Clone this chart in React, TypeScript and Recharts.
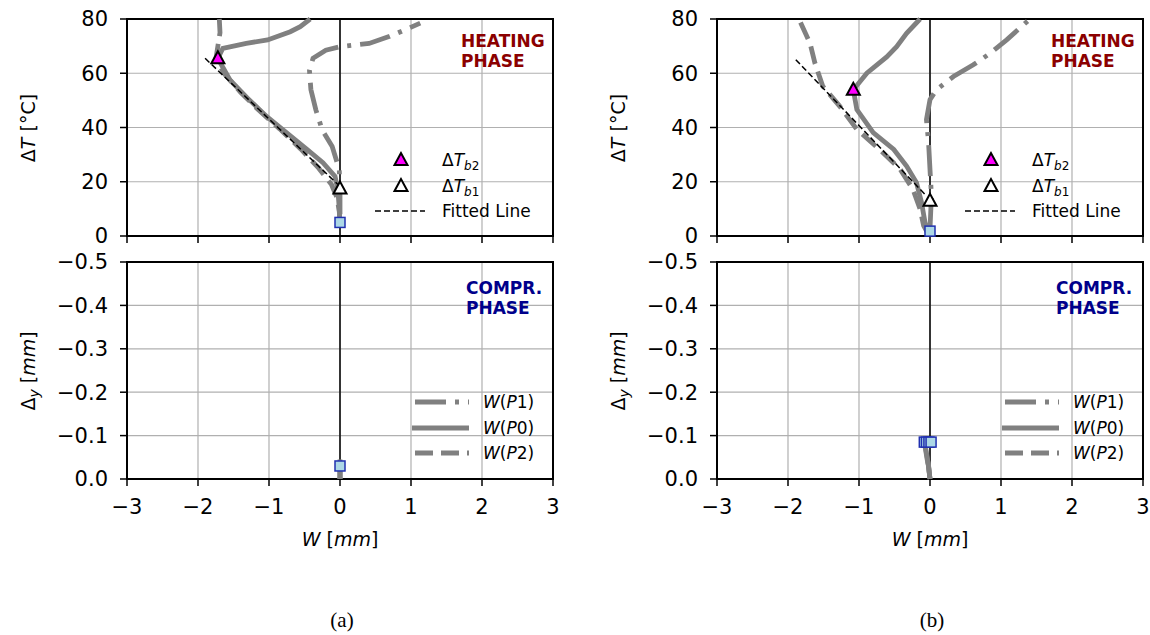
import React from "react";
import {
  CartesianGrid,
  ComposedChart,
  Line,
  ReferenceArea,
  ReferenceLine,
  Scatter,
  XAxis,
  YAxis,
} from "recharts";

type Pt = [number, number];

const wTicks = [-3, -2, -1, 0, 1, 2, 3];
const tTicks = [0, 20, 40, 60, 80];
const dyTicks = [-0.5, -0.4, -0.3, -0.2, -0.1, 0];

// (a) heating phase: [W mm, dT degC]
const heatP1A: Pt[] = [
  [0, 8], [0, 15], [-0.01, 24.5], [-0.11, 33], [-0.25, 39], [-0.34, 46.5],
  [-0.41, 54], [-0.43, 61], [-0.38, 65.5], [-0.2, 68.5], [0, 69.8],
  [0.41, 71], [0.69, 73.5], [0.97, 76.6], [1.13, 78.5],
];
const heatP0A: Pt[] = [
  [0, 4], [-0.01, 10], [-0.03, 17], [-0.07, 22], [-0.24, 27], [-0.47, 32],
  [-0.75, 38], [-1.03, 44], [-1.31, 51], [-1.55, 57.5], [-1.72, 65.5],
  [-1.65, 69.2], [-1.32, 71], [-1.02, 72.3], [-0.7, 75.3], [-0.56, 77.2], [-0.42, 80],
];
const heatP2A: Pt[] = [
  [0, 5], [-0.01, 9], [-0.04, 14], [-0.12, 19], [-0.3, 25], [-0.55, 32],
  [-0.85, 39.5], [-1.15, 46.5], [-1.4, 53], [-1.62, 59.5], [-1.75, 65],
  [-1.72, 70], [-1.69, 75], [-1.7, 80],
];
const fitA: Pt[] = [[-1.9, 65.5], [-0.03, 19]];
const tb2A: Pt[] = [[-1.72, 65.5]];
const tb1A: Pt[] = [[0, 17.5]];
const startA: Pt[] = [[0, 5]];

// (b) heating phase
const heatP1B: Pt[] = [
  [0, 2.6], [0.02, 14.8], [0, 24.5], [-0.02, 34.4], [-0.05, 42.9], [0, 50.3],
  [0.09, 53.9], [0.33, 58.8], [0.61, 63.1], [0.85, 67.4], [1.08, 72.3], [1.39, 79.6],
];
const heatP0B: Pt[] = [
  [-0.02, 1.4], [-0.07, 5], [-0.12, 12.4], [-0.19, 19.7], [-0.33, 25.8],
  [-0.51, 31.9], [-0.8, 38.1], [-1.03, 46.6], [-1.08, 53.9], [-0.89, 60],
  [-0.61, 66], [-0.47, 69.8], [-0.33, 74.7], [-0.14, 80],
];
const heatP2B: Pt[] = [
  [-0.03, 1], [-0.09, 3.8], [-0.14, 9.9], [-0.24, 17.2], [-0.42, 24.6],
  [-0.71, 31.9], [-1.03, 39.3], [-1.27, 47.8], [-1.51, 55.2], [-1.62, 63.7],
  [-1.69, 71.1], [-1.84, 79.6], [-1.86, 80],
];
const fitB: Pt[] = [[-1.89, 65], [-0.05, 14.8]];
const tb2B: Pt[] = [[-1.08, 53.9]];
const tb1B: Pt[] = [[0, 13]];
const startB: Pt[] = [[0, 1.8]];

// compression phase: [W mm, dy mm]
const compP1A: Pt[] = [[0, 0], [0, -0.04]];
const compP0A: Pt[] = [[0, 0], [0, -0.045]];
const compP2A: Pt[] = [[0, 0], [0, -0.04]];
const compStartA: Pt[] = [[0, -0.03]];

const compP1B: Pt[] = [[0, 0], [-0.02, -0.03], [-0.05, -0.06]];
const compP0B: Pt[] = [[0, 0], [-0.02, -0.03], [-0.04, -0.045], [-0.07, -0.075]];
const compP2B: Pt[] = [[0, 0], [-0.03, -0.04], [-0.06, -0.07]];
const compStartB: Pt[] = [[-0.08, -0.085], [-0.05, -0.085], [-0.015, -0.085], [0.015, -0.085]];

const FONT = "DejaVu Sans";
const GRAY = "#808080";
const LW = 4.8;
const P1_DASH = "31 9 4 9";
const P2_DASH = "18 8";

const rows = (pts: Pt[]) => pts.map(([w, v]) => ({ w, v }));
const minus = (s: string) => s.replace("-", "\u2212");

const triangle = (fill: string) => (p: any) => (
  <polygon
    points={`${p.cx},${p.cy - 7} ${p.cx - 6.5},${p.cy + 5} ${p.cx + 6.5},${p.cy + 5}`}
    fill={fill}
    stroke="#000"
    strokeWidth={2}
  />
);
const square = (p: any) => (
  <rect x={p.cx - 5} y={p.cy - 5} width={10} height={10} fill="#add8e6" stroke="#2030b0" strokeWidth={1.5} />
);

const tickStyle = { fill: "#000", fontSize: 21, fontFamily: FONT };

interface PanelProps {
  left: number;
  p1: Pt[];
  p0: Pt[];
  p2: Pt[];
}

function HeatPanel({ left, p1, p0, p2, fit, tb2, tb1, start }: PanelProps & { fit: Pt[]; tb2: Pt[]; tb1: Pt[]; start: Pt[] }) {
  return (
    <div style={{ position: "absolute", left, top: 0 }}>
      <ComposedChart width={568} height={250} margin={{ top: 19, right: 15, bottom: 2, left: 0 }}>
        <CartesianGrid stroke="#b0b0b0" strokeWidth={1.2} />
        <XAxis
          type="number"
          dataKey="w"
          domain={[-3, 3]}
          ticks={wTicks}
          height={12}
          axisLine={false}
          tickSize={7}
          tickLine={{ stroke: "#000", strokeWidth: 1.5 }}
          tickFormatter={() => ""}
        />
        <YAxis
          type="number"
          domain={[0, 80]}
          ticks={tTicks}
          width={127}
          axisLine={false}
          tickSize={7}
          tickMargin={12}
          tickLine={{ stroke: "#000", strokeWidth: 1.5 }}
          tick={tickStyle}
        />
        <ReferenceLine x={0} stroke="#000" strokeWidth={1.5} />
        <Line data={rows(p1)} dataKey="v" type="linear" stroke={GRAY} strokeWidth={LW} strokeDasharray={P1_DASH} dot={false} isAnimationActive={false} />
        <Line data={rows(p0)} dataKey="v" type="linear" stroke={GRAY} strokeWidth={LW} dot={false} isAnimationActive={false} />
        <Line data={rows(p2)} dataKey="v" type="linear" stroke={GRAY} strokeWidth={LW} strokeDasharray={P2_DASH} dot={false} isAnimationActive={false} />
        <Line data={rows(fit)} dataKey="v" type="linear" stroke="#000" strokeWidth={1.5} strokeDasharray="6 3" dot={false} isAnimationActive={false} />
        <Scatter data={rows(tb2)} dataKey="v" shape={triangle("#ff00ff")} isAnimationActive={false} />
        <Scatter data={rows(tb1)} dataKey="v" shape={triangle("#ffffff")} isAnimationActive={false} />
        <Scatter data={rows(start)} dataKey="v" shape={square} isAnimationActive={false} />
        <ReferenceArea x1={-3} x2={3} y1={0} y2={80} fill="none" stroke="#000" strokeWidth={2} />
      </ComposedChart>
    </div>
  );
}

function CompPanel({ left, p1, p0, p2, start }: PanelProps & { start: Pt[] }) {
  return (
    <div style={{ position: "absolute", left, top: 240 }}>
      <ComposedChart width={568} height={279} margin={{ top: 22, right: 15, bottom: 0, left: 0 }}>
        <CartesianGrid stroke="#b0b0b0" strokeWidth={1.2} />
        <XAxis
          type="number"
          dataKey="w"
          domain={[-3, 3]}
          ticks={wTicks}
          height={40}
          axisLine={false}
          tickSize={7}
          tickMargin={13}
          tickLine={{ stroke: "#000", strokeWidth: 1.5 }}
          tick={tickStyle}
          tickFormatter={(v: number) => minus(String(v))}
        />
        <YAxis
          type="number"
          domain={[-0.5, 0]}
          reversed
          ticks={dyTicks}
          width={127}
          axisLine={false}
          tickSize={7}
          tickMargin={12}
          tickLine={{ stroke: "#000", strokeWidth: 1.5 }}
          tick={tickStyle}
          tickFormatter={(v: number) => minus(v.toFixed(1)).replace("\u22120.0", "0.0")}
        />
        <ReferenceLine x={0} stroke="#000" strokeWidth={1.5} />
        <Line data={rows(p1)} dataKey="v" type="linear" stroke={GRAY} strokeWidth={LW} strokeDasharray={P1_DASH} dot={false} isAnimationActive={false} />
        <Line data={rows(p0)} dataKey="v" type="linear" stroke={GRAY} strokeWidth={LW} dot={false} isAnimationActive={false} />
        <Line data={rows(p2)} dataKey="v" type="linear" stroke={GRAY} strokeWidth={LW} strokeDasharray={P2_DASH} dot={false} isAnimationActive={false} />
        <Scatter data={rows(start)} dataKey="v" shape={square} isAnimationActive={false} />
        <ReferenceArea x1={-3} x2={3} y1={-0.5} y2={0} fill="none" stroke="#000" strokeWidth={2} />
      </ComposedChart>
    </div>
  );
}

function Labels({ dx }: { dx: number }) {
  const tri = (x: number, y: number, fill: string) => (
    <polygon points={`${x},${y - 7} ${x - 6.5},${y + 5} ${x + 6.5},${y + 5}`} fill={fill} stroke="#000" strokeWidth={2} />
  );
  return (
    <g fontFamily={FONT} fill="#000">
      {/* axis titles */}
      <text transform={`translate(${35 + dx},128) rotate(-90)`} textAnchor="middle" fontSize={19}>
        Δ<tspan fontStyle="italic">T</tspan> [°C]
      </text>
      <text transform={`translate(${35 + dx},371) rotate(-90)`} textAnchor="middle" fontSize={19}>
        Δ<tspan fontStyle="italic" fontSize={14} dy={4}>y</tspan>
        <tspan dy={-4}> [</tspan>
        <tspan fontStyle="italic">mm</tspan>]
      </text>
      <text x={340 + dx} y={546} textAnchor="middle" fontSize={19}>
        <tspan fontStyle="italic">W</tspan> [<tspan fontStyle="italic">mm</tspan>]
      </text>
      {/* phase tags */}
      <text x={461 + dx} y={47} fontSize={17} fontWeight="bold" fill="#8b0000">HEATING</text>
      <text x={461 + dx} y={67} fontSize={17} fontWeight="bold" fill="#8b0000">PHASE</text>
      <text x={466 + dx} y={294} fontSize={17} fontWeight="bold" fill="#00008b">COMPR.</text>
      <text x={466 + dx} y={314} fontSize={17} fontWeight="bold" fill="#00008b">PHASE</text>
      {/* heating legend */}
      {tri(401 + dx, 160, "#ff00ff")}
      {tri(401 + dx, 186, "#ffffff")}
      <line x1={375 + dx} x2={425 + dx} y1={211} y2={211} stroke="#000" strokeWidth={1.5} strokeDasharray="6 3" />
      <text x={442 + dx} y={166} fontSize={17}>
        Δ<tspan fontStyle="italic">T</tspan><tspan fontSize={12} dy={4} fontStyle="italic">b</tspan><tspan fontSize={12}>2</tspan>
      </text>
      <text x={442 + dx} y={192} fontSize={17}>
        Δ<tspan fontStyle="italic">T</tspan><tspan fontSize={12} dy={4} fontStyle="italic">b</tspan><tspan fontSize={12}>1</tspan>
      </text>
      <text x={442 + dx} y={217} fontSize={17}>Fitted Line</text>
      {/* compression legend */}
      <line x1={415 + dx} x2={469 + dx} y1={402} y2={402} stroke={GRAY} strokeWidth={LW} strokeDasharray={P1_DASH} />
      <line x1={412 + dx} x2={469 + dx} y1={428} y2={428} stroke={GRAY} strokeWidth={LW} />
      <line x1={415 + dx} x2={469 + dx} y1={453} y2={453} stroke={GRAY} strokeWidth={LW} strokeDasharray={P2_DASH} />
      {["1", "0", "2"].map((n, i) => (
        <text key={n} x={483 + dx} y={408 + i * 25.5} fontSize={17}>
          <tspan fontStyle="italic">W</tspan>(<tspan fontStyle="italic">P</tspan>{n})
        </text>
      ))}
      {/* caption */}
      <text x={342 + dx} y={627} textAnchor="middle" fontSize={21} fontFamily="Liberation Serif">
        ({dx === 0 ? "a" : "b"})
      </text>
    </g>
  );
}

export default function App() {
  const dx = 590;
  return (
    <div style={{ position: "absolute", left: 0, top: 0, width: 1150, height: 635, background: "#fff" }}>
      <HeatPanel left={0} p1={heatP1A} p0={heatP0A} p2={heatP2A} fit={fitA} tb2={tb2A} tb1={tb1A} start={startA} />
      <CompPanel left={0} p1={compP1A} p0={compP0A} p2={compP2A} start={compStartA} />
      <HeatPanel left={dx} p1={heatP1B} p0={heatP0B} p2={heatP2B} fit={fitB} tb2={tb2B} tb1={tb1B} start={startB} />
      <CompPanel left={dx} p1={compP1B} p0={compP0B} p2={compP2B} start={compStartB} />
      <svg width={1150} height={635} style={{ position: "absolute", left: 0, top: 0, pointerEvents: "none" }}>
        <Labels dx={0} />
        <Labels dx={dx} />
      </svg>
    </div>
  );
}
